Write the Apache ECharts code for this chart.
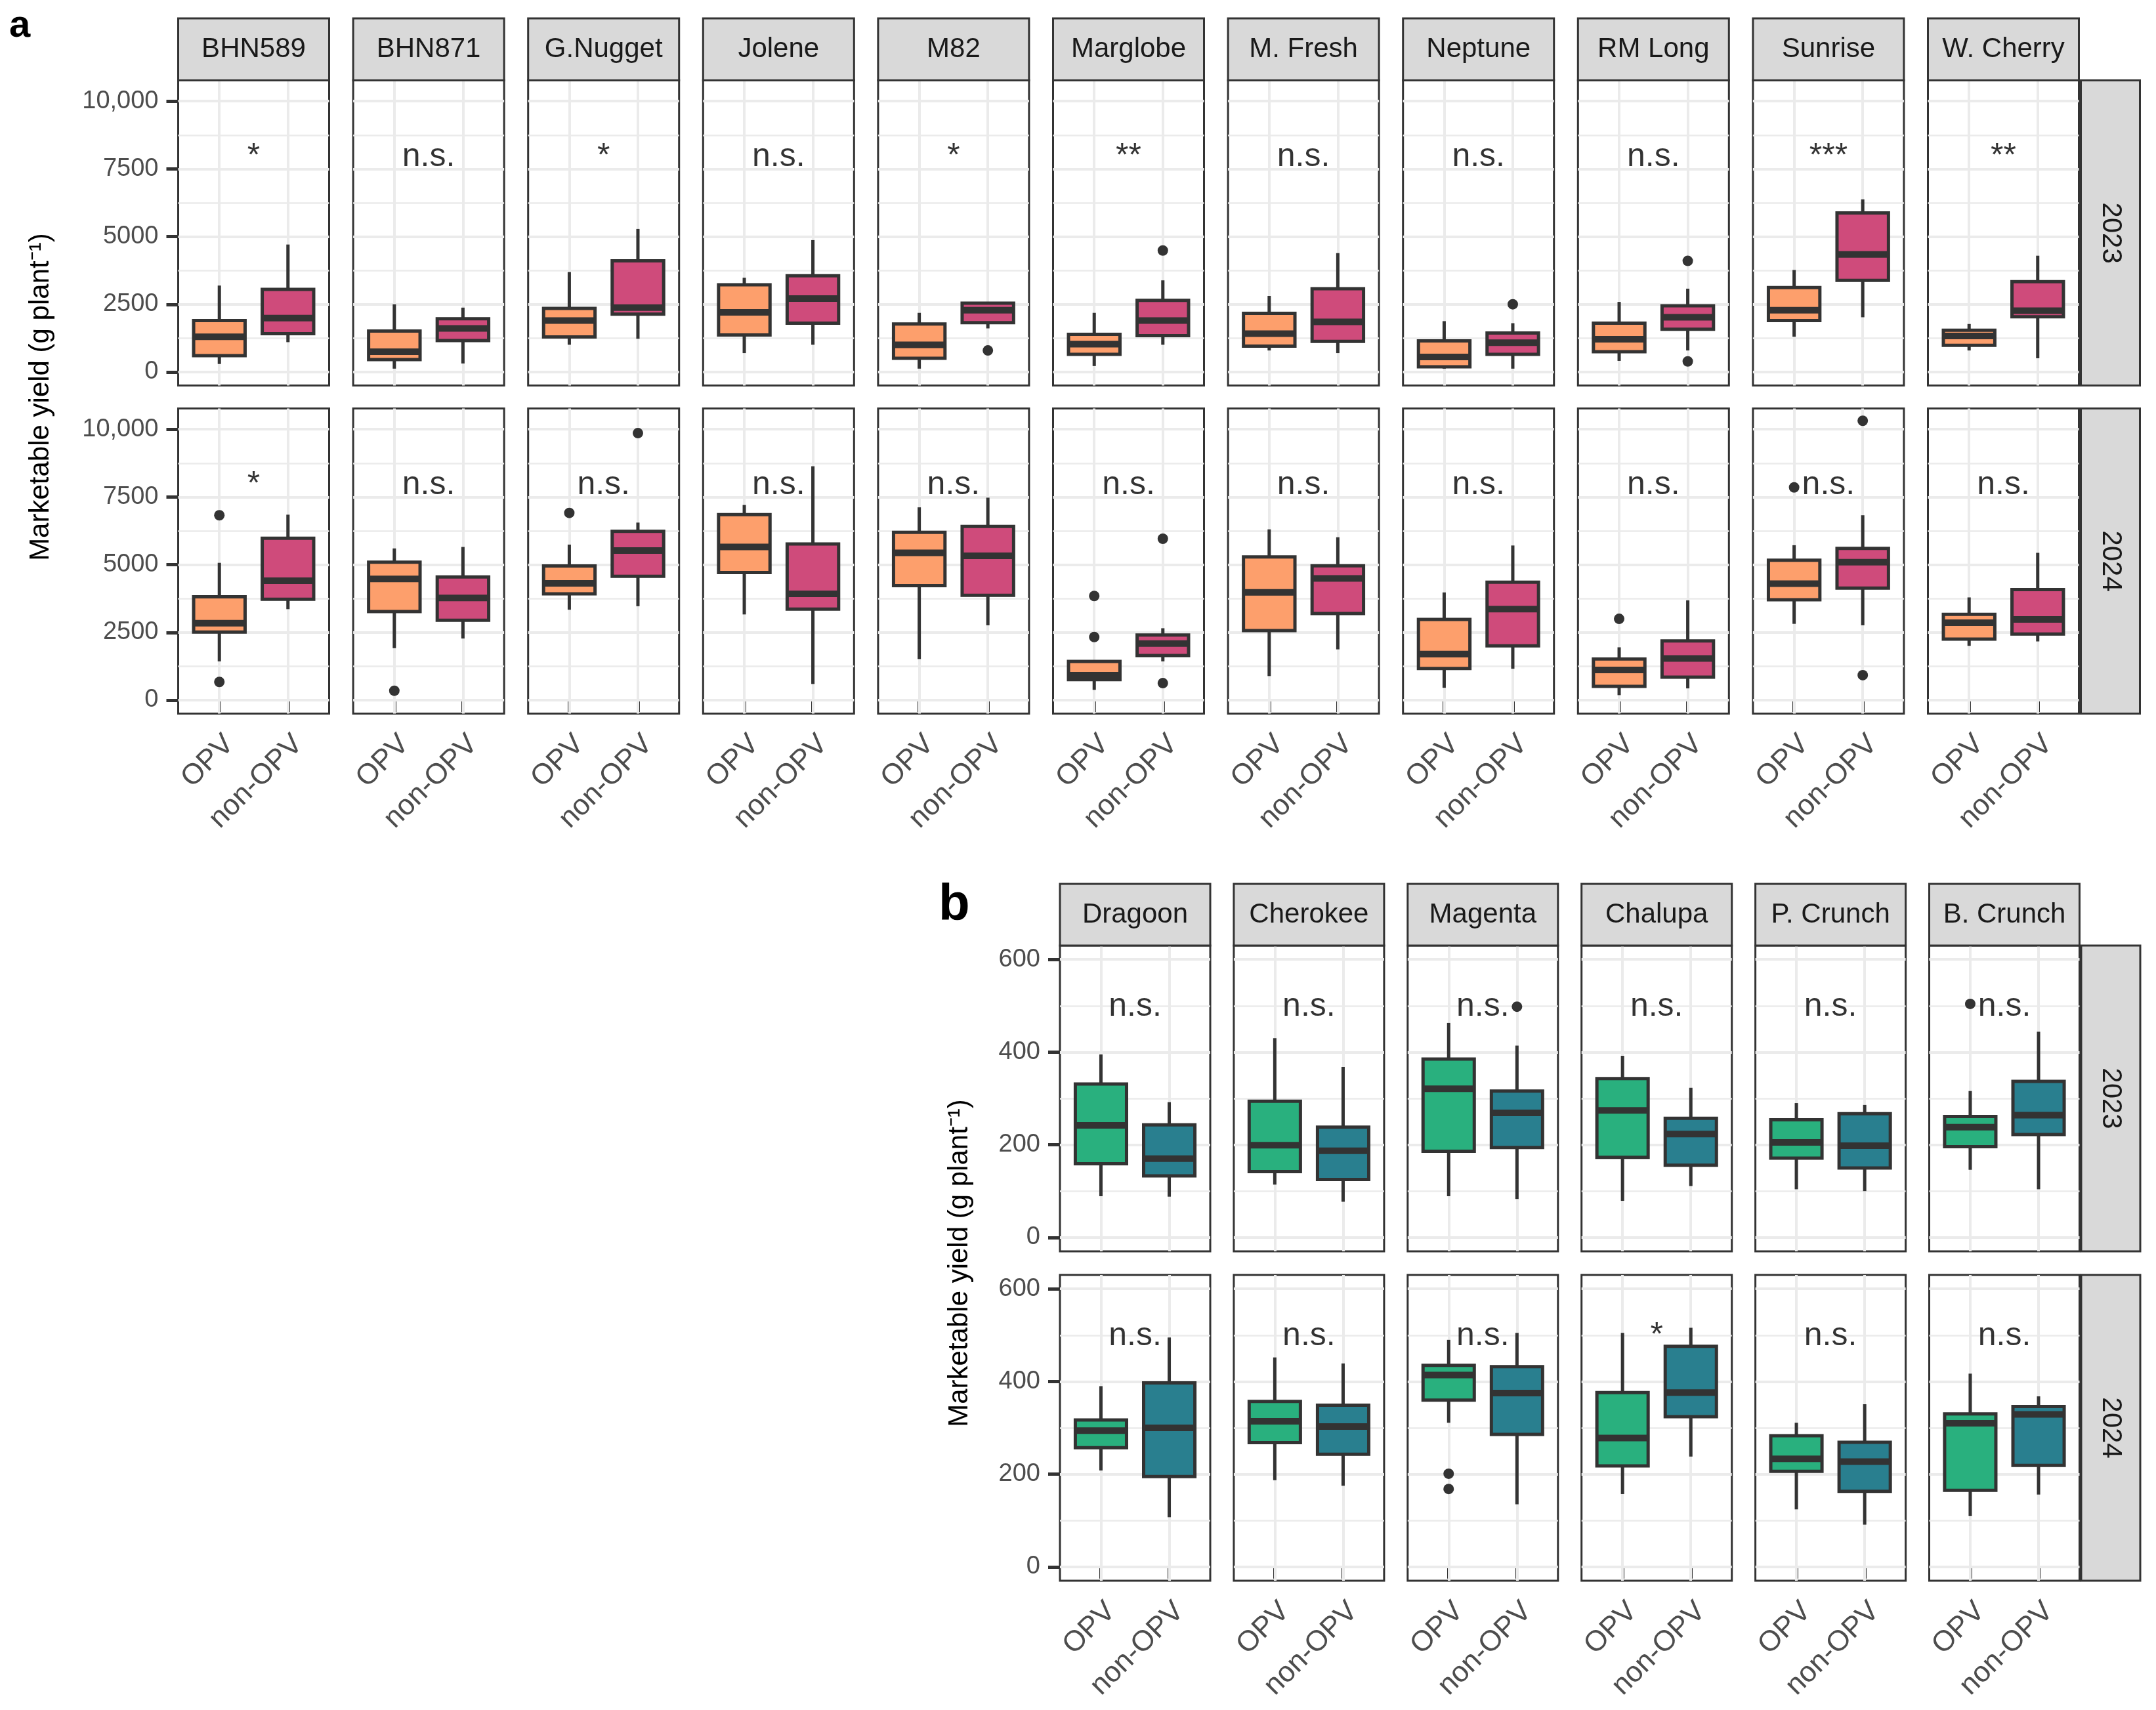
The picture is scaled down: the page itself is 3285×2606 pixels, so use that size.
<!DOCTYPE html>
<html>
<head>
<meta charset="utf-8">
<title>Marketable yield, OPV vs non-OPV</title>
<script src="https://cdn.jsdelivr.net/npm/echarts@6/dist/echarts.min.js"></script>
<style>
  html, body { margin: 0; padding: 0; background: #fff; }
  #chart { width: 3285px; height: 2606px; }
</style>
</head>
<body>
<div id="chart"></div>
<script>
// ---------------- data ----------------
const groups = ['OPV', 'non-OPV'];
const years = ['2023', '2024'];

// panel a: tomato cultivars. Boxes are [lower whisker, Q1, median, Q3, upper whisker]
const cultivarsA = ['BHN589', 'BHN871', 'G.Nugget', 'Jolene', 'M82', 'Marglobe', 'M. Fresh', 'Neptune', 'RM Long', 'Sunrise', 'W. Cherry'];
const opvA2023 = [
  [297, 604, 1304, 1898, 3193], [125, 460, 750, 1515, 2502], [1007, 1294, 1898, 2349, 3691],
  [700, 1371, 2205, 3222, 3480], [125, 508, 1007, 1774, 2186], [221, 652, 1026, 1390, 2186],
  [796, 959, 1419, 2167, 2809], [125, 192, 556, 1151, 1879], [412, 748, 1208, 1803, 2589],
  [1304, 1898, 2282, 3116, 3768], [796, 988, 1330, 1544, 1774]
];
const nonA2023 = [
  [1103, 1419, 1994, 3049, 4708], [316, 1160, 1611, 1966, 2378], [1227, 2140, 2380, 4104, 5283],
  [1007, 1803, 2713, 3557, 4871], [1611, 1822, 2282, 2541, 2589], [1007, 1342, 1898, 2646, 3385],
  [700, 1131, 1850, 3078, 4391], [125, 652, 1083, 1438, 1803], [796, 1582, 2023, 2445, 3078],
  [2023, 3385, 4343, 5877, 6376], [508, 2042, 2263, 3337, 4295]
];
const opvA2024 = [
  [1430, 2513, 2839, 3814, 5070], [1918, 3272, 4474, 5092, 5601], [3337, 3922, 4312, 4951, 5742],
  [3164, 4713, 5655, 6847, 7205], [1517, 4225, 5439, 6197, 7118], [379, 758, 921, 1430, 1430],
  [888, 2568, 3976, 5287, 6305], [455, 1170, 1701, 2979, 3976], [184, 509, 1116, 1517, 1950],
  [2817, 3705, 4301, 5168, 5720], [2004, 2253, 2860, 3164, 3792]
];
const nonA2024 = [
  [3359, 3727, 4409, 5980, 6847], [2275, 2947, 3770, 4550, 5655], [3467, 4572, 5525, 6230, 6555],
  [596, 3359, 3922, 5764, 8635], [2763, 3868, 5330, 6414, 7475], [1430, 1647, 2091, 2405, 2654],
  [1874, 3196, 4496, 4962, 6013], [1159, 2004, 3359, 4355, 5709], [433, 845, 1538, 2188, 3684],
  [2763, 4139, 5092, 5601, 6826], [2167, 2438, 2979, 4084, 5439]
];
// outliers: [cultivar index, group index, value]
const outA2023 = [[4, 1, 796], [5, 1, 4487], [7, 1, 2502], [8, 1, 4104], [8, 1, 393]];
const outA2024 = [
  [0, 0, 6826], [0, 0, 672], [1, 0, 347], [2, 0, 6912], [2, 1, 9859],
  [5, 0, 3846], [5, 0, 2329], [5, 1, 5959], [5, 1, 628], [8, 0, 3001],
  [9, 0, 7855], [9, 1, 10314], [9, 1, 921]
];
const sigA2023 = ['*', 'n.s.', '*', 'n.s.', '*', '**', 'n.s.', 'n.s.', 'n.s.', '***', '**'];
const sigA2024 = ['*', 'n.s.', 'n.s.', 'n.s.', 'n.s.', 'n.s.', 'n.s.', 'n.s.', 'n.s.', 'n.s.', 'n.s.'];
const ticksA = [0, 2500, 5000, 7500, 10000];
const minorA = [1250, 3750, 6250, 8750];

// panel b: pepper cultivars
const cultivarsB = ['Dragoon', 'Cherokee', 'Magenta', 'Chalupa', 'P. Crunch', 'B. Crunch'];
const opvB2023 = [
  [89, 159, 242, 331, 395], [114, 142, 199, 294, 430], [89, 186, 321, 385, 463],
  [79, 173, 274, 343, 392], [104, 171, 205, 254, 290], [146, 196, 238, 261, 316]
];
const nonB2023 = [
  [88, 133, 170, 243, 292], [77, 125, 187, 238, 368], [83, 194, 269, 316, 414],
  [111, 156, 223, 257, 323], [100, 150, 198, 267, 286], [104, 222, 264, 337, 444]
];
const opvB2024 = [
  [208, 257, 294, 317, 390], [187, 268, 314, 357, 452], [311, 360, 414, 435, 490],
  [157, 218, 278, 376, 505], [124, 206, 233, 283, 311], [110, 165, 310, 330, 417]
];
const nonB2024 = [
  [107, 195, 300, 397, 495], [175, 243, 303, 349, 439], [135, 286, 375, 432, 505],
  [238, 324, 376, 476, 516], [91, 163, 227, 269, 351], [156, 219, 329, 346, 368]
];
const outB2023 = [[5, 0, 504], [2, 1, 498]];
const outB2024 = [[2, 0, 201], [2, 0, 168]];
const sigB2023 = ['n.s.', 'n.s.', 'n.s.', 'n.s.', 'n.s.', 'n.s.'];
const sigB2024 = ['n.s.', 'n.s.', 'n.s.', '*', 'n.s.', 'n.s.'];
const ticksB = [0, 200, 400, 600];
const minorB = [100, 300, 500];

// ---------------- styling ----------------
const FONT = '"Liberation Sans", Arial, Helvetica, sans-serif';
const DARK = '#333333';
const GRIDLINE = '#EBEBEB';
const STRIP = '#D9D9D9';

const panels = [
  {
    label: 'a', labelX: 14, labelY: 40, labelSize: 58,
    cultivars: cultivarsA, opv: [opvA2023, opvA2024], non: [nonA2023, nonA2024],
    outliers: [outA2023, outA2024], sig: [sigA2023, sigA2024], sigY: 7950,
    ticks: ticksA, minor: minorA, yMin: -500, yMax: 10766,
    fills: ['#FD9F6C', '#CF4B7B'],
    left: 271.5, pitch: 266.6, width: 230, tops: [122.6, 622.6], height: 465,
    stripTop: 28, rightStrip: 3170.5, titleX: 62
  },
  {
    label: 'b', labelX: 1430, labelY: 1380, labelSize: 78,
    cultivars: cultivarsB, opv: [opvB2023, opvB2024], non: [nonB2023, nonB2024],
    outliers: [outB2023, outB2024], sig: [sigB2023, sigB2024], sigY: 498,
    ticks: ticksB, minor: minorB, yMin: -30, yMax: 630,
    fills: ['#29B07E', '#297F8F'],
    left: 1615, pitch: 264.9, width: 229, tops: [1441, 1943], height: 466,
    stripTop: 1347, rightStrip: 3171, titleX: 1462
  }
];

function yFormat(v) {
  return v >= 10000 ? v.toLocaleString('en-US') : String(v);
}

function boxRenderer(fills) {
  return function (params, api) {
    const x = api.value(0);
    const lo = api.coord([x, api.value(1)]);
    const q1 = api.coord([x, api.value(2)]);
    const med = api.coord([x, api.value(3)]);
    const q3 = api.coord([x, api.value(4)]);
    const hi = api.coord([x, api.value(5)]);
    const half = api.size([0.75, 0])[0] / 2;
    const seg = (a, b, w) => ({
      type: 'line',
      shape: { x1: a[0], y1: a[1], x2: b[0], y2: b[1] },
      style: { stroke: DARK, lineWidth: w }
    });
    return {
      type: 'group',
      children: [
        seg(lo, q1, 5),
        seg(q3, hi, 5),
        {
          type: 'rect',
          shape: { x: q3[0] - half, y: q3[1], width: half * 2, height: q1[1] - q3[1] },
          style: { fill: fills[Math.round(x) - 1], stroke: DARK, lineWidth: 5 }
        },
        seg([med[0] - half, med[1]], [med[0] + half, med[1]], 10)
      ]
    };
  };
}

const option = {
  animation: false,
  backgroundColor: '#ffffff',
  grid: [], xAxis: [], yAxis: [], series: [], graphic: []
};

panels.forEach(p => {
  p.cultivars.forEach((name, c) => {
    const left = p.left + c * p.pitch;
    years.forEach((yr, r) => {
      const gi = option.grid.length;
      const top = p.tops[r];
      option.grid.push({
        left: left, top: top, width: p.width, height: p.height,
        show: true, borderColor: DARK, borderWidth: 3
      });
      option.xAxis.push({
        type: 'value', gridIndex: gi, min: 0.4, max: 2.6,
        axisLine: { show: false }, splitLine: { show: false },
        axisTick: { show: r === 1, customValues: [1, 2], length: 18, lineStyle: { color: DARK, width: 5 } },
        axisLabel: {
          show: r === 1, customValues: [1, 2], rotate: 45, align: 'right', verticalAlign: 'top',
          margin: 24, fontSize: 44, color: '#4D4D4D', fontFamily: FONT,
          formatter: v => groups[Math.round(v) - 1]
        }
      });
      option.yAxis.push({
        type: 'value', gridIndex: gi, min: p.yMin, max: p.yMax,
        axisLine: { show: false }, splitLine: { show: false },
        axisTick: { show: c === 0, customValues: p.ticks, length: 18, lineStyle: { color: DARK, width: 5 } },
        axisLabel: {
          show: c === 0, customValues: p.ticks, margin: 30, fontSize: 38,
          color: '#4D4D4D', fontFamily: FONT, formatter: yFormat
        }
      });

      // gridlines + significance label
      const lines = []
        .concat(p.ticks.map(v => ({ yAxis: v, lineStyle: { width: 4 } })))
        .concat(p.minor.map(v => ({ yAxis: v, lineStyle: { width: 2.5 } })))
        .concat([1, 2].map(v => ({ xAxis: v, lineStyle: { width: 4 } })));
      option.series.push({
        type: 'scatter', xAxisIndex: gi, yAxisIndex: gi, z: 5, silent: true,
        symbolSize: 0,
        data: [{ name: p.sig[r][c], value: [1.5, p.sigY] }],
        label: {
          show: true, position: 'inside', formatter: '{b}',
          fontSize: 50, color: '#000000', fontFamily: FONT
        },
        markLine: {
          silent: true, symbol: 'none', z: 1, animation: false,
          label: { show: false },
          lineStyle: { color: GRIDLINE, type: 'solid' },
          data: lines
        }
      });

      option.series.push({
        type: 'custom', xAxisIndex: gi, yAxisIndex: gi, z: 3, silent: true,
        renderItem: boxRenderer(p.fills),
        encode: { x: 0, y: [1, 2, 3, 4, 5] },
        data: [[1].concat(p.opv[r][c]), [2].concat(p.non[r][c])]
      });

      const pts = p.outliers[r].filter(o => o[0] === c).map(o => [o[1] + 1, o[2]]);
      if (pts.length) {
        option.series.push({
          type: 'scatter', xAxisIndex: gi, yAxisIndex: gi, z: 4, silent: true,
          symbolSize: 16, itemStyle: { color: DARK, opacity: 1 }, data: pts
        });
      }

      // right-hand year strip
      if (c === p.cultivars.length - 1) {
        option.graphic.push({
          type: 'rect', z: 10, silent: true,
          shape: { x: p.rightStrip, y: top, width: 90, height: p.height },
          style: { fill: STRIP, stroke: DARK, lineWidth: 3 }
        });
        option.graphic.push({
          type: 'text', z: 11, silent: true,
          x: p.rightStrip + 45, y: top + p.height / 2, rotation: -Math.PI / 2,
          style: {
            text: yr, fontSize: 42, fontFamily: FONT, fill: '#1A1A1A',
            textAlign: 'center', textVerticalAlign: 'middle', align: 'center', verticalAlign: 'middle'
          }
        });
      }
    });

    // top cultivar strip
    option.graphic.push({
      type: 'rect', z: 10, silent: true,
      shape: { x: left, y: p.stripTop, width: p.width, height: p.tops[0] - p.stripTop },
      style: { fill: STRIP, stroke: DARK, lineWidth: 3 }
    });
    option.graphic.push({
      type: 'text', z: 11, silent: true,
      x: left + p.width / 2, y: (p.stripTop + p.tops[0]) / 2,
      style: {
        text: name, fontSize: 42, fontFamily: FONT, fill: '#1A1A1A',
        textAlign: 'center', textVerticalAlign: 'middle', align: 'center', verticalAlign: 'middle'
      }
    });
  });

  // panel letter
  option.graphic.push({
    type: 'text', z: 11, silent: true, x: p.labelX, y: p.labelY,
    style: {
      text: p.label, fontSize: p.labelSize, fontWeight: 'bold', fontFamily: FONT, fill: '#000',
      textAlign: 'left', textVerticalAlign: 'middle', align: 'left', verticalAlign: 'middle'
    }
  });
  // y-axis title
  option.graphic.push({
    type: 'text', z: 11, silent: true,
    x: p.titleX, y: (p.tops[0] + p.tops[1] + p.height) / 2, rotation: Math.PI / 2,
    style: {
      text: 'Marketable yield (g plant\u207B\u00B9)', fontSize: 42, fontFamily: FONT, fill: '#000',
      textAlign: 'center', textVerticalAlign: 'middle', align: 'center', verticalAlign: 'middle'
    }
  });
});

const chart = echarts.init(document.getElementById('chart'), null, { renderer: 'canvas' });
chart.setOption(option);
window.addEventListener('resize', () => chart.resize());
</script>
</body>
</html>
